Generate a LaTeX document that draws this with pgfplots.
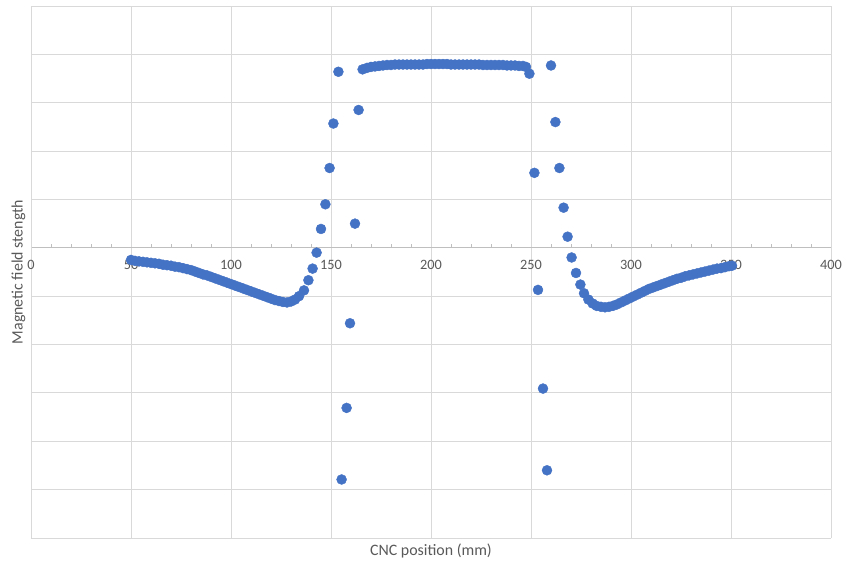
\documentclass[border=0pt]{standalone}
\usepackage{fontspec}
\setmainfont{Carlito}
\usepackage{pgfplots}
\pgfplotsset{compat=1.18}
\usetikzlibrary{calc}
\definecolor{mk}{RGB}{68,114,196}
\definecolor{txt}{RGB}{89,89,89}
\definecolor{grd}{RGB}{217,217,217}
\definecolor{axl}{RGB}{191,191,191}
\begin{document}
\begin{tikzpicture}
\begin{axis}[
 scale only axis, width=800pt, height=532pt,
 xmin=0, xmax=400, ymin=-6, ymax=5,
 axis x line=middle, axis y line=left,
 axis line style={-},
 x axis line style={axl, line width=0.9pt},
 y axis line style={grd, line width=0.9pt},
 xtick={0,50,...,400}, ytick={-6,-5,...,5}, yticklabels={},
 minor x tick num=4,
 hide obscured x ticks=false,
 grid=major, major grid style={grd, line width=0.9pt},
 major tick length=0pt, minor tick length=4pt,
 tick align=center,
 minor x tick style={axl, line width=0.8pt, yshift=2pt},
 /pgf/number format/assume math mode=true,
 xticklabel style={font=\fontsize{14.3}{17}\selectfont, text=txt, anchor=north, yshift=-9pt},
 xlabel={CNC position (mm)},
 ylabel={Magnetic field stength},
 xlabel style={font=\fontsize{15.9}{19}\selectfont, text=txt, at={(axis description cs:0.5,0)}, anchor=north, yshift=-2pt},
 ylabel style={font=\fontsize{15.9}{19}\selectfont, text=txt, at={(axis description cs:0,0.5)}, anchor=south, rotate=0, yshift=2pt},
 clip=false,
]
\addplot[only marks, mark=*, mark size=5pt, mark options={fill=mk, draw=mk}] coordinates {
(50,-0.25)(52,-0.27)(54,-0.28)(56,-0.29)(58,-0.30)(60,-0.31)(62,-0.32)(64,-0.33)(66,-0.35)(68,-0.36)
(70,-0.37)(72,-0.39)(74,-0.40)(76,-0.42)(78,-0.44)(80,-0.46)(82,-0.49)(84,-0.52)(86,-0.55)(88,-0.57)
(90,-0.60)(92,-0.63)(94,-0.66)(96,-0.69)(98,-0.72)(100,-0.75)(102,-0.78)(104,-0.81)(106,-0.84)(108,-0.87)
(110,-0.90)(112,-0.93)(114,-0.96)(116,-0.99)(118,-1.02)(120,-1.05)(122,-1.08)(124,-1.10)(126,-1.12)(128,-1.13)
(130,-1.11)(132,-1.07)(134,-1.00)(136.5,-0.88)(138.7,-0.67)(140.8,-0.43)(142.8,-0.10)(145,0.39)(147.2,0.90)(149.3,1.65)
(151.2,2.57)(153.7,3.64)(155.3,-4.79)(157.8,-3.31)(159.5,-1.56)(162,0.50)(163.8,2.85)(165.8,3.69)
(168,3.72)(170,3.74)(172,3.75)(174,3.76)(176,3.77)(178,3.78)(180,3.78)(182,3.79)(184,3.79)(186,3.79)
(188,3.79)(190,3.79)(192,3.79)(194,3.79)(196,3.79)(198,3.80)(200,3.80)(202,3.80)(204,3.80)(206,3.80)
(208,3.80)(210,3.79)(212,3.79)(214,3.79)(216,3.79)(218,3.79)(220,3.79)(222,3.79)(224,3.79)(226,3.78)
(228,3.78)(230,3.78)(232,3.78)(234,3.78)(236,3.78)(238,3.77)(240,3.77)(242,3.77)(244,3.76)(246,3.76)
(247.5,3.74)(249.2,3.60)(251.7,1.55)(253.5,-0.87)(256,-2.91)(258,-4.60)(260,3.77)(262.2,2.60)(264.2,1.65)(266.3,0.83)
(268.3,0.23)(270.3,-0.20)(272.5,-0.52)(274.7,-0.76)(276.5,-0.94)(278.7,-1.07)(280.8,-1.15)(282.8,-1.20)(285,-1.22)(287,-1.23)
(289,-1.22)(291,-1.20)(293,-1.17)(295,-1.13)(297,-1.09)(299,-1.05)(301,-1.01)(303,-0.97)(305,-0.93)(307,-0.89)
(309,-0.85)(311,-0.82)(313,-0.79)(315,-0.76)(317,-0.73)(319,-0.70)(321,-0.67)(323,-0.64)(325,-0.62)(327,-0.59)
(329,-0.57)(331,-0.55)(333,-0.53)(335,-0.51)(337,-0.49)(339,-0.47)(341,-0.45)(343,-0.43)(345,-0.42)(347,-0.40)
(349,-0.38)(350.5,-0.37)
};
\end{axis}
\pgfresetboundingbox
\path ($(current axis.south west)+(-31pt,-25pt)$) rectangle ($(current axis.north east)+(14pt,6pt)$);
\end{tikzpicture}
\end{document}
